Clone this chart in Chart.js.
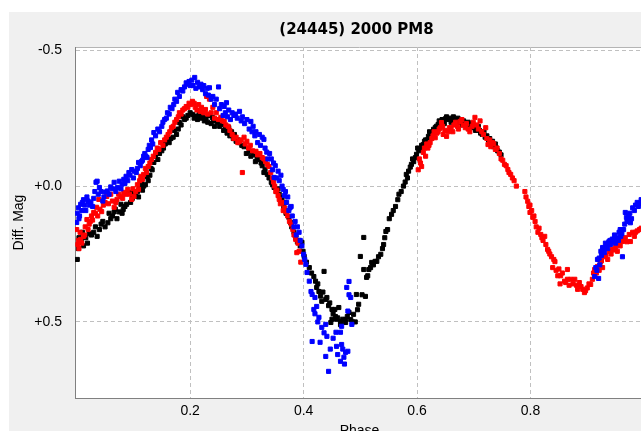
<!DOCTYPE html>
<html>
<head>
<meta charset="utf-8">
<script src="https://cdn.jsdelivr.net/npm/chart.js@4.4.1/dist/chart.umd.min.js"></script>
<style>
  html, body { margin: 0; padding: 0; background: #ffffff; overflow: hidden; }
  #panel { position: absolute; left: 9px; top: 12px; width: 640px; height: 440px; background: #f0f0f0; }
</style>
</head>
<body>
<div id="panel"><canvas id="lightCurve" width="640" height="440"></canvas></div>
<script>
  // (phase, diff. mag)
  const titleText = "(24445) 2000 PM8";
  const xTicks = [0.2, 0.4, 0.6, 0.8];
  const yTicks = [-0.5, 0, 0.5];
  const yTickLabels = ["-0.5", "+0.0", "+0.5"];

  const blackPoints = [
    [0.001,0.27],[0.004,0.19],[0.012,0.22],[0.016,0.19],[0.022,0.175],[0.030,0.17],[0.036,0.185],
    [0.046,0.13],[0.050,0.15],[0.060,0.12],[0.066,0.095],[0.071,0.12],[0.075,0.095],[0.082,0.086],
    [0.078,0.067],[0.088,0.067],[0.092,0.023],[0.100,0.025],[0.104,0.03],[0.111,0.005],[0.114,-0.013],
    [0.118,0.0],[0.126,-0.02],[0.133,-0.06],[0.136,-0.087],[0.139,-0.11],[0.143,-0.098],[0.150,-0.13],
    [0.158,-0.172],[0.163,-0.16],[0.170,-0.18],[0.176,-0.19],[0.181,-0.234],[0.190,-0.245],[0.196,-0.26],
    [0.204,-0.264],[0.210,-0.258],[0.216,-0.264],[0.222,-0.255],[0.228,-0.25],[0.234,-0.26],[0.239,-0.253],
    [0.243,-0.22],[0.248,-0.235],[0.257,-0.227],[0.262,-0.21],[0.268,-0.215],[0.273,-0.20],[0.278,-0.19],
    [0.284,-0.17],[0.287,-0.16],[0.295,-0.145],[0.304,-0.128],[0.312,-0.115],[0.318,-0.10],[0.322,-0.098],
    [0.327,-0.075],[0.332,-0.06],[0.336,-0.043],[0.343,-0.014],[0.348,0.005],[0.352,0.02],[0.357,0.03],
    [0.362,0.042],[0.367,0.06],[0.371,0.09],[0.374,0.115],[0.377,0.134],[0.383,0.17],[0.386,0.19],
    [0.392,0.20],[0.397,0.207],[0.401,0.259],
    [0.003,0.23],[0.008,0.20],[0.010,0.17],[0.019,0.21],[0.026,0.18],[0.033,0.15],[0.040,0.16],
    [0.043,0.14],[0.055,0.135],[0.057,0.10],[0.063,0.11],[0.068,0.085],[0.080,0.10],[0.085,0.075],
    [0.095,0.06],[0.098,0.045],[0.107,0.02],[0.109,0.04],[0.116,0.015],[0.121,-0.005],[0.124,-0.035],
    [0.129,-0.04],[0.131,-0.065],[0.146,-0.12],[0.153,-0.14],[0.156,-0.155],[0.166,-0.175],[0.172,-0.205],
    [0.179,-0.21],[0.184,-0.225],[0.187,-0.255],[0.193,-0.25],[0.200,-0.27],[0.207,-0.25],[0.213,-0.245],
    [0.219,-0.25],[0.225,-0.24],[0.231,-0.235],[0.237,-0.23],[0.241,-0.24],[0.252,-0.22],[0.259,-0.205],
    [0.265,-0.195],[0.270,-0.185],[0.276,-0.175],[0.281,-0.165],[0.291,-0.15],[0.299,-0.12],[0.307,-0.11],
    [0.315,-0.09],[0.325,-0.085],[0.330,-0.05],[0.339,-0.03],[0.345,-0.005],[0.355,0.01],[0.360,0.055],
    [0.365,0.075],[0.369,0.10],[0.379,0.15],[0.389,0.205],[0.394,0.22],[0.399,0.24],
    [0.405,0.28],[0.410,0.30],[0.414,0.32],[0.418,0.333],[0.421,0.35],[0.423,0.373],[0.425,0.36],
    [0.427,0.388],[0.430,0.405],[0.432,0.424],[0.434,0.39],[0.436,0.314],[0.439,0.417],[0.441,0.41],
    [0.444,0.44],[0.446,0.43],[0.448,0.502],[0.450,0.454],[0.450,0.49],[0.452,0.47],[0.455,0.454],
    [0.456,0.48],[0.458,0.49],[0.460,0.485],[0.462,0.447],[0.465,0.498],[0.465,0.51],[0.469,0.49],
    [0.474,0.491],[0.474,0.502],[0.477,0.48],[0.480,0.465],[0.483,0.491],[0.486,0.50],[0.488,0.472],
    [0.491,0.50],[0.493,0.399],[0.495,0.455],[0.497,0.435],[0.500,0.259],[0.503,0.40],[0.506,0.307],
    [0.506,0.189],[0.509,0.406],[0.511,0.336],[0.513,0.33],[0.515,0.307],[0.518,0.30],[0.520,0.281],
    [0.523,0.29],[0.526,0.277],[0.529,0.277],[0.532,0.26],[0.536,0.251],[0.539,0.23],[0.541,0.215],
    [0.543,0.19],[0.545,0.167],
    [0.548,0.16],[0.551,0.12],[0.555,0.104],[0.558,0.09],[0.562,0.075],[0.566,0.05],[0.568,0.03],
    [0.572,0.02],[0.576,0.0],[0.579,-0.015],[0.581,-0.043],[0.583,-0.03],[0.585,-0.055],[0.588,-0.07],
    [0.590,-0.08],[0.592,-0.10],[0.594,-0.09],[0.597,-0.105],[0.599,-0.117],[0.601,-0.14],[0.603,-0.13],
    [0.606,-0.135],[0.608,-0.15],[0.611,-0.153],[0.613,-0.165],[0.615,-0.17],[0.618,-0.17],[0.620,-0.183],
    [0.622,-0.20],[0.624,-0.19],[0.627,-0.195],[0.629,-0.209],[0.632,-0.215],[0.634,-0.22],[0.637,-0.227],
    [0.639,-0.24],[0.641,-0.232],[0.644,-0.245],[0.646,-0.238],[0.648,-0.23],[0.650,-0.248],[0.652,-0.255],
    [0.655,-0.245],[0.658,-0.25],[0.660,-0.235],[0.662,-0.245],[0.664,-0.255],[0.667,-0.24],[0.670,-0.235],
    [0.672,-0.25],[0.674,-0.242],[0.677,-0.235],[0.680,-0.225],[0.682,-0.24],[0.684,-0.23],[0.687,-0.22],
    [0.690,-0.235],[0.692,-0.225],[0.695,-0.22],[0.698,-0.23],[0.700,-0.215],[0.703,-0.205],[0.705,-0.215],
    [0.708,-0.22],[0.710,-0.205],[0.712,-0.195],[0.715,-0.19],[0.718,-0.20],[0.720,-0.18],[0.723,-0.185],
    [0.726,-0.17],[0.728,-0.175],[0.730,-0.16],[0.733,-0.165],[0.735,-0.145],[0.738,-0.155],[0.740,-0.14],
    [0.742,-0.13],[0.745,-0.125],[0.748,-0.115]
  ];

  const redPoints = [
    [0.000,0.16],[0.002,0.215],[0.003,0.20],[0.004,0.23],[0.006,0.17],[0.007,0.196],[0.009,0.21],
    [0.012,0.185],[0.014,0.18],[0.015,0.15],[0.018,0.123],[0.020,0.16],[0.022,0.14],[0.024,0.13],
    [0.026,0.11],[0.028,0.125],[0.030,0.097],[0.033,0.10],[0.035,0.078],[0.037,0.11],[0.039,0.049],
    [0.041,0.085],[0.044,0.094],[0.047,0.07],[0.050,0.06],[0.053,0.038],[0.056,0.065],[0.060,0.03],
    [0.063,0.055],[0.066,0.078],[0.069,0.06],[0.071,0.049],[0.074,0.03],[0.078,0.038],[0.081,0.045],
    [0.083,0.023],[0.086,0.03],[0.090,0.012],[0.093,0.03],[0.097,0.049],[0.099,0.01],[0.101,0.038],
    [0.104,0.02],[0.107,-0.005],[0.109,0.012],[0.111,-0.02],[0.113,-0.036],[0.116,-0.025],[0.118,-0.043],
    [0.121,-0.065],[0.123,-0.05],[0.126,-0.072],[0.129,-0.085],[0.132,-0.098],[0.135,-0.11],[0.139,-0.124],
    [0.142,-0.14],[0.145,-0.135],[0.148,-0.16],[0.152,-0.15],[0.155,-0.17],[0.158,-0.18],[0.161,-0.19],
    [0.164,-0.20],[0.167,-0.215],[0.170,-0.22],[0.173,-0.235],[0.176,-0.245],[0.179,-0.255],[0.181,-0.27],
    [0.184,-0.265],[0.187,-0.28],[0.190,-0.285],[0.193,-0.293],[0.196,-0.29],[0.198,-0.305],[0.201,-0.30],
    [0.204,-0.312],[0.207,-0.305],[0.209,-0.29],[0.212,-0.28],[0.215,-0.30],[0.218,-0.275],[0.220,-0.29],
    [0.224,-0.27],[0.227,-0.282],[0.229,-0.33],[0.231,-0.265],[0.234,-0.32],[0.237,-0.27],[0.240,-0.29],
    [0.243,-0.25],[0.246,-0.27],[0.250,-0.245],[0.254,-0.253],[0.257,-0.24],[0.260,-0.238],[0.263,-0.225],
    [0.267,-0.22],[0.270,-0.205],[0.274,-0.19],[0.277,-0.175],[0.281,-0.18],[0.284,-0.16],[0.287,-0.165],
    [0.290,-0.17],[0.292,-0.05],[0.295,-0.18],[0.297,-0.155],[0.300,-0.165],[0.303,-0.14],[0.306,-0.15],
    [0.310,-0.13],[0.316,-0.128],[0.319,-0.115],[0.323,-0.12],[0.327,-0.105],[0.330,-0.10],[0.333,-0.09],
    [0.336,-0.08],[0.339,-0.072],[0.342,-0.05],[0.345,-0.03],[0.347,-0.015],[0.349,0.0],[0.351,0.02],
    [0.353,0.015],[0.355,0.035],[0.357,0.049],[0.359,0.065],[0.362,0.06],[0.364,0.09],[0.366,0.08],
    [0.369,0.095],[0.372,0.11],[0.375,0.13],[0.378,0.14],[0.381,0.16],[0.383,0.18],[0.386,0.196],
    [0.388,0.245],[0.390,0.21],[0.392,0.24],[0.395,0.28],
    [0.602,-0.06],[0.604,-0.10],[0.606,-0.085],[0.608,-0.072],[0.611,-0.124],[0.613,-0.14],[0.615,-0.11],
    [0.617,-0.155],[0.619,-0.14],[0.621,-0.15],[0.623,-0.16],[0.626,-0.175],[0.628,-0.185],[0.630,-0.20],
    [0.632,-0.178],[0.635,-0.195],[0.637,-0.20],[0.639,-0.21],[0.641,-0.215],[0.643,-0.234],[0.645,-0.22],
    [0.646,-0.19],[0.649,-0.205],[0.652,-0.183],[0.655,-0.20],[0.657,-0.215],[0.660,-0.215],[0.663,-0.20],
    [0.665,-0.225],[0.668,-0.235],[0.671,-0.22],[0.673,-0.21],[0.676,-0.238],[0.679,-0.245],[0.681,-0.225],
    [0.685,-0.215],[0.687,-0.23],[0.690,-0.21],[0.693,-0.20],[0.697,-0.22],[0.699,-0.235],[0.702,-0.253],
    [0.705,-0.225],[0.708,-0.21],[0.711,-0.24],[0.714,-0.20],[0.717,-0.19],[0.721,-0.215],[0.723,-0.175],
    [0.725,-0.153],[0.728,-0.17],[0.730,-0.145],[0.733,-0.16],[0.735,-0.155],[0.738,-0.135],[0.741,-0.14],
    [0.745,-0.12],[0.748,-0.10],[0.751,-0.095],[0.754,-0.08],[0.757,-0.075],[0.760,-0.061],[0.762,-0.05],
    [0.765,-0.043],[0.768,-0.03],[0.771,-0.02],[0.775,0.0],[0.790,0.02],[0.792,0.04],[0.795,0.056],
    [0.797,0.075],[0.799,0.07],[0.799,0.097],[0.802,0.09],[0.804,0.115],[0.806,0.11],[0.808,0.13],
    [0.810,0.15],[0.813,0.17],[0.815,0.155],[0.818,0.178],[0.820,0.19],[0.822,0.20],[0.825,0.185],
    [0.827,0.215],[0.830,0.233],[0.832,0.24],[0.834,0.25],[0.837,0.26],[0.839,0.30],[0.841,0.27],
    [0.843,0.278],[0.845,0.31],[0.848,0.33],[0.850,0.305],[0.852,0.36],[0.853,0.33],[0.856,0.32],
    [0.860,0.35],[0.862,0.355],[0.865,0.307],[0.865,0.343],[0.868,0.365],[0.871,0.343],[0.875,0.36],
    [0.878,0.343],[0.881,0.365],[0.883,0.38],[0.886,0.355],[0.889,0.37],[0.892,0.38],[0.895,0.392],
    [0.897,0.385],[0.900,0.375],[0.903,0.36],[0.906,0.362],[0.909,0.343],[0.911,0.32],[0.913,0.307],
    [0.916,0.32],[0.918,0.296],[0.921,0.31],[0.923,0.28],[0.925,0.275],[0.927,0.30],[0.930,0.26],
    [0.933,0.255],[0.936,0.27],[0.939,0.24],[0.942,0.25],[0.944,0.233],[0.947,0.235],[0.950,0.225],
    [0.953,0.24],[0.956,0.215],[0.958,0.22],[0.962,0.204],[0.964,0.195],[0.967,0.19],[0.970,0.205],
    [0.974,0.178],[0.976,0.204],[0.980,0.17],[0.983,0.185],[0.985,0.17],[0.988,0.165],[0.992,0.16],
    [0.995,0.155]
  ];

  const bluePoints = [
    [0.000,0.134],[0.001,0.10],[0.003,0.08],[0.004,0.12],[0.005,0.11],[0.007,0.067],[0.009,0.09],
    [0.010,0.06],[0.012,0.05],[0.014,0.07],[0.016,0.09],[0.018,0.04],[0.020,0.055],[0.022,0.07],
    [0.025,0.06],[0.028,0.075],[0.030,0.045],[0.032,0.02],[0.034,-0.014],[0.036,-0.018],[0.038,0.03],
    [0.040,0.005],[0.043,0.02],[0.046,0.055],[0.048,0.04],[0.051,0.022],[0.054,0.018],[0.057,0.03],
    [0.060,0.003],[0.063,0.01],[0.066,-0.014],[0.069,0.02],[0.072,0.005],[0.075,-0.018],[0.078,0.01],
    [0.080,-0.007],[0.083,-0.025],[0.085,-0.01],[0.087,-0.036],[0.090,-0.02],[0.092,-0.05],[0.094,-0.04],
    [0.097,-0.061],[0.100,-0.03],[0.102,-0.055],[0.105,-0.05],[0.107,-0.065],[0.109,-0.087],[0.112,-0.075],
    [0.114,-0.09],[0.116,-0.095],[0.118,-0.11],[0.120,-0.12],[0.122,-0.11],[0.124,-0.105],[0.126,-0.135],
    [0.128,-0.15],[0.130,-0.142],[0.132,-0.17],[0.134,-0.155],[0.136,-0.197],[0.139,-0.185],[0.143,-0.21],
    [0.146,-0.20],[0.150,-0.22],[0.152,-0.235],[0.155,-0.245],[0.158,-0.25],[0.160,-0.27],[0.163,-0.265],
    [0.165,-0.29],[0.168,-0.285],[0.171,-0.30],[0.173,-0.32],[0.176,-0.312],[0.178,-0.345],[0.181,-0.33],
    [0.184,-0.355],[0.187,-0.35],[0.190,-0.365],[0.193,-0.38],[0.195,-0.375],[0.198,-0.385],[0.200,-0.37],
    [0.203,-0.39],[0.205,-0.37],[0.208,-0.40],[0.210,-0.36],[0.213,-0.382],[0.216,-0.365],[0.219,-0.375],
    [0.222,-0.355],[0.224,-0.37],[0.227,-0.34],[0.230,-0.36],[0.232,-0.335],[0.234,-0.362],[0.237,-0.32],
    [0.240,-0.33],[0.243,-0.30],[0.246,-0.32],[0.250,-0.365],[0.252,-0.285],[0.255,-0.30],[0.258,-0.26],
    [0.260,-0.293],[0.262,-0.27],[0.264,-0.307],[0.266,-0.255],[0.268,-0.28],[0.271,-0.245],[0.274,-0.27],
    [0.277,-0.26],[0.280,-0.265],[0.283,-0.25],[0.287,-0.275],[0.290,-0.24],[0.292,-0.255],[0.296,-0.23],
    [0.300,-0.245],[0.304,-0.21],[0.307,-0.238],[0.309,-0.20],[0.311,-0.22],[0.314,-0.185],[0.316,-0.20],
    [0.319,-0.16],[0.322,-0.19],[0.324,-0.15],[0.327,-0.18],[0.330,-0.172],[0.332,-0.14],[0.335,-0.125],
    [0.337,-0.10],[0.340,-0.12],[0.343,-0.10],[0.345,-0.06],[0.347,-0.085],[0.348,-0.032],[0.350,-0.075],
    [0.352,-0.03],[0.355,-0.055],[0.357,-0.02],[0.360,-0.04],[0.362,0.0],[0.364,0.012],[0.366,0.035],
    [0.368,0.02],[0.370,0.06],[0.372,0.04],[0.374,0.09],[0.376,0.08],[0.378,0.075],[0.380,0.11],
    [0.383,0.15],[0.385,0.13],[0.387,0.18],[0.389,0.15],[0.392,0.17],[0.394,0.20],[0.397,0.22],
    [0.400,0.251],[0.402,0.27],[0.404,0.288],[0.406,0.318],[0.410,0.35],[0.413,0.388],[0.415,0.399],
    [0.418,0.454],[0.420,0.41],[0.420,0.47],[0.423,0.443],[0.425,0.50],[0.427,0.483],[0.432,0.52],
    [0.436,0.54],[0.439,0.509],[0.415,0.572],[0.429,0.575],[0.441,0.553],[0.447,0.60],[0.452,0.56],
    [0.457,0.538],[0.439,0.627],[0.444,0.682],[0.458,0.59],[0.460,0.62],[0.467,0.583],[0.469,0.60],
    [0.472,0.655],[0.474,0.612],[0.478,0.608],[0.465,0.645],[0.471,0.63],[0.465,0.538],[0.480,0.351],
    [0.476,0.373],[0.480,0.40],[0.478,0.46],[0.483,0.41],[0.485,0.509],[0.467,0.516],
    [0.913,0.333],[0.915,0.30],[0.917,0.31],[0.918,0.27],[0.920,0.34],[0.921,0.265],[0.922,0.29],
    [0.924,0.24],[0.925,0.255],[0.927,0.226],[0.929,0.235],[0.930,0.245],[0.932,0.21],[0.934,0.22],
    [0.936,0.23],[0.938,0.205],[0.940,0.20],[0.941,0.215],[0.944,0.195],[0.946,0.205],[0.948,0.18],
    [0.950,0.21],[0.951,0.195],[0.953,0.19],[0.955,0.20],[0.956,0.17],[0.958,0.16],[0.959,0.185],
    [0.961,0.175],[0.962,0.26],[0.964,0.16],[0.966,0.14],[0.967,0.097],[0.969,0.115],[0.970,0.13],
    [0.972,0.125],[0.973,0.11],[0.975,0.10],[0.976,0.135],[0.978,0.12],[0.980,0.08],[0.983,0.09],
    [0.985,0.07],[0.988,0.06],[0.990,0.075],[0.993,0.065],[0.995,0.05],[1.0,0.04]
  ];

  function toXY(list) {
    return list.map(p => ({ x: p[0], y: p[1] }));
  }

  const plotBack = {
    id: "plotBack",
    beforeDraw(chart) {
      const { ctx, chartArea: a } = chart;
      ctx.save();
      ctx.fillStyle = "#ffffff";
      ctx.fillRect(a.left, a.top, a.right - a.left, a.bottom - a.top);
      ctx.strokeStyle = "#b4b4b4";
      ctx.lineWidth = 1;
      ctx.beginPath();
      ctx.moveTo(a.left, a.top + 0.5);
      ctx.lineTo(a.right, a.top + 0.5);
      ctx.stroke();
      ctx.restore();
    },
    afterDraw(chart) {
      const { ctx, chartArea: a } = chart;
      ctx.save();
      ctx.font = "bold 15px 'DejaVu Sans'";
      ctx.fillStyle = "#000000";
      ctx.textAlign = "center";
      ctx.textBaseline = "middle";
      ctx.fillText(titleText, (a.left + a.right) / 2 - 3, 18);
      ctx.restore();
    }
  };

  const pointStyle = { pointStyle: "rect", pointRadius: 2.9, pointBorderWidth: 1 };

  new Chart(document.getElementById("lightCurve"), {
    type: "scatter",
    data: {
      datasets: [
        { label: "blue", data: toXY(bluePoints), backgroundColor: "#0000ff", borderColor: "#0000ff", ...pointStyle },
        { label: "red", data: toXY(redPoints), backgroundColor: "#ff0000", borderColor: "#ff0000", ...pointStyle },
        { label: "black", data: toXY(blackPoints), backgroundColor: "#000000", borderColor: "#000000", ...pointStyle }
      ]
    },
    options: {
      responsive: false,
      animation: false,
      devicePixelRatio: 1,
      layout: { padding: { top: 35, right: 2, bottom: 0, left: 0 } },
      plugins: {
        legend: { display: false },
        tooltip: { enabled: false }
      },
      scales: {
        x: {
          type: "linear",
          min: -0.003,
          max: 1.0,
          afterBuildTicks: s => { s.ticks = xTicks.map(v => ({ value: v })); },
          afterFit: s => { s.height = 54; },
          ticks: {
            padding: 5,
            color: "#000000",
            font: { family: "'Liberation Sans'", size: 14 },
            callback: v => v.toFixed(1)
          },
          grid: { color: "#c0c0c0", drawTicks: false },
          border: { display: true, color: "#808080", width: 1, dash: [4, 3] },
          title: {
            display: true,
            text: "Phase",
            color: "#000000",
            font: { family: "'Liberation Sans'", size: 14 },
            padding: { top: 0, bottom: 12 }
          }
        },
        y: {
          type: "linear",
          reverse: true,
          min: -0.512,
          max: 0.78,
          afterBuildTicks: s => { s.ticks = yTicks.map(v => ({ value: v })); },
          afterFit: s => { s.width = 66; },
          ticks: {
            padding: 13,
            color: "#000000",
            font: { family: "'Liberation Sans'", size: 14 },
            callback: v => yTickLabels[yTicks.indexOf(v)]
          },
          grid: { color: "#c0c0c0", drawTicks: false },
          border: { display: true, color: "#808080", width: 1, dash: [4, 3] },
          title: {
            display: true,
            text: "Diff. Mag",
            color: "#000000",
            font: { family: "'Liberation Sans'", size: 14 },
            padding: { top: 2, bottom: 0 }
          }
        }
      }
    },
    plugins: [plotBack]
  });
</script>
</body>
</html>
